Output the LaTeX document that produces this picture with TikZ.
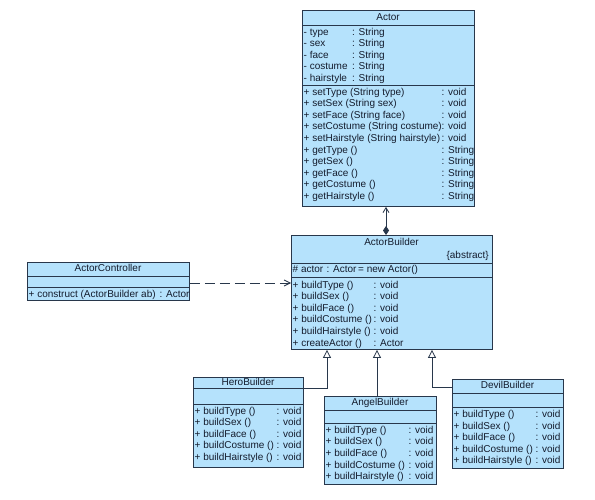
\documentclass[tikz,border=0pt]{standalone}
\usepackage{fontspec}
\setmainfont{Liberation Sans}
\usetikzlibrary{arrows.meta}
\definecolor{boxfill}{RGB}{181,226,252}
\definecolor{boxdraw}{RGB}{40,55,75}
\definecolor{txtcol}{RGB}{20,28,45}
\begin{document}
\begin{tikzpicture}[x=1pt,y=-1pt,
  umlbox/.style={draw=boxdraw, fill=boxfill, line width=0.9pt, inner sep=0pt, anchor=north west},
  txt/.style={inner sep=0pt, text height=7pt, text depth=2pt, anchor=west, font=\fontsize{10}{11}\selectfont, text=txtcol},
  ttl/.style={txt, anchor=center},
  sep/.style={draw=boxdraw, line width=0.9pt},
  conn/.style={draw=boxdraw, line width=0.8pt},
  gen/.style={conn, -{Triangle[open, fill=white, length=8pt, width=8pt]}},
]
\useasboundingbox (0,0) rectangle (595,500);
\fill[white] (0,0) rectangle (595,500);

% ---------- Actor ----------
\node[umlbox, minimum width=172pt, minimum height=196pt] (actor) at (302,10) {};
\draw[sep] (302,25.5) -- (474,25.5);
\draw[sep] (302,85) -- (474,85);
\node[ttl] (actorT) at (388,18) {Actor};
\node[txt] (aa1) at (303.5,33) {- type};
\node[txt] (aa2) at (303.5,44.4) {- sex};
\node[txt] (aa3) at (303.5,55.8) {- face};
\node[txt] (aa4) at (303.5,67.2) {- costume};
\node[txt] (aa5) at (303.5,78.6) {- hairstyle};
\node[txt] (ab1) at (352,33) {: String};
\node[txt] (ab2) at (352,44.4) {: String};
\node[txt] (ab3) at (352,55.8) {: String};
\node[txt] (ab4) at (352,67.2) {: String};
\node[txt] (ab5) at (352,78.6) {: String};
\node[txt] (am1) at (303.5,92.7) {+ setType (String type)};
\node[txt] (am2) at (303.5,104.3) {+ setSex (String sex)};
\node[txt] (am3) at (303.5,115.9) {+ setFace (String face)};
\node[txt] (am4) at (303.5,127.5) {+ setCostume (String costume)};
\node[txt] (am5) at (303.5,139.1) {+ setHairstyle (String hairstyle)};
\node[txt] (am6) at (303.5,150.7) {+ getType ()};
\node[txt] (am7) at (303.5,162.3) {+ getSex ()};
\node[txt] (am8) at (303.5,173.9) {+ getFace ()};
\node[txt] (am9) at (303.5,185.5) {+ getCostume ()};
\node[txt] (am10) at (303.5,197.1) {+ getHairstyle ()};
\node[txt] (ar1) at (441.5,92.7) {: void};
\node[txt] (ar2) at (441.5,104.3) {: void};
\node[txt] (ar3) at (441.5,115.9) {: void};
\node[txt] (ar4) at (441.5,127.5) {: void};
\node[txt] (ar5) at (441.5,139.1) {: void};
\node[txt] (ar6) at (441.5,150.7) {: String};
\node[txt] (ar7) at (441.5,162.3) {: String};
\node[txt] (ar8) at (441.5,173.9) {: String};
\node[txt] (ar9) at (441.5,185.5) {: String};
\node[txt] (ar10) at (441.5,197.1) {: String};

% ---------- ActorBuilder ----------
\node[umlbox, minimum width=201pt, minimum height=114pt] (builder) at (291,235) {};
\draw[sep] (291,263) -- (492,263);
\draw[sep] (291,277) -- (492,277);
\node[ttl] (builderT) at (391.5,243) {ActorBuilder};
\node[txt, anchor=east] (builderS) at (489,256) {\{abstract\}};
\node[txt] (ba1) at (292.5,270) {\# actor};
\node[txt] (ba2) at (326.5,270) {: Actor};
\node[txt] (ba3) at (358,270) {= new Actor()};
\node[txt] (bm1) at (292.5,285.5) {+ buildType ()};
\node[txt] (bm2) at (292.5,297.1) {+ buildSex ()};
\node[txt] (bm3) at (292.5,308.7) {+ buildFace ()};
\node[txt] (bm4) at (292.5,320.3) {+ buildCostume ()};
\node[txt] (bm5) at (292.5,331.9) {+ buildHairstyle ()};
\node[txt] (bm6) at (292.5,343.5) {+ createActor ()};
\node[txt] (br1) at (373.5,285.5) {: void};
\node[txt] (br2) at (373.5,297.1) {: void};
\node[txt] (br3) at (373.5,308.7) {: void};
\node[txt] (br4) at (373.5,320.3) {: void};
\node[txt] (br5) at (373.5,331.9) {: void};
\node[txt] (br6) at (373.5,343.5) {: Actor};

% ---------- ActorController ----------
\node[umlbox, minimum width=162pt, minimum height=38pt] (controller) at (27,262) {};
\draw[sep] (27,276) -- (189,276);
\draw[sep] (27,287.5) -- (189,287.5);
\node[ttl] (controllerT) at (108,269) {ActorController};
\node[txt] (cm1) at (28.5,295.5) {+ construct (ActorBuilder ab)};
\node[txt] (cr1) at (159.5,295.5) {: Actor};

% ---------- HeroBuilder ----------
\node[umlbox, minimum width=110pt, minimum height=90pt] (hero) at (193,377) {};
\draw[sep] (193,388) -- (303,388);
\draw[sep] (193,404) -- (303,404);
\node[ttl] (heroT) at (248,382.5) {HeroBuilder};
\node[txt] (hm1) at (194.5,411.7) {+ buildType ()};
\node[txt] (hm2) at (194.5,423.2) {+ buildSex ()};
\node[txt] (hm3) at (194.5,434.7) {+ buildFace ()};
\node[txt] (hm4) at (194.5,446.2) {+ buildCostume ()};
\node[txt] (hm5) at (194.5,457.7) {+ buildHairstyle ()};
\node[txt] (hr1) at (276.5,411.7) {: void};
\node[txt] (hr2) at (276.5,423.2) {: void};
\node[txt] (hr3) at (276.5,434.7) {: void};
\node[txt] (hr4) at (276.5,446.2) {: void};
\node[txt] (hr5) at (276.5,457.7) {: void};

% ---------- AngelBuilder ----------
\node[umlbox, minimum width=112pt, minimum height=88pt] (angel) at (324,396) {};
\draw[sep] (324,410.5) -- (436,410.5);
\draw[sep] (324,423.5) -- (436,423.5);
\node[ttl] (angelT) at (380,403) {AngelBuilder};
\node[txt] (gm1) at (325.5,430.7) {+ buildType ()};
\node[txt] (gm2) at (325.5,442.3) {+ buildSex ()};
\node[txt] (gm3) at (325.5,454.0) {+ buildFace ()};
\node[txt] (gm4) at (325.5,465.6) {+ buildCostume ()};
\node[txt] (gm5) at (325.5,477.3) {+ buildHairstyle ()};
\node[txt] (gr1) at (408.5,430.7) {: void};
\node[txt] (gr2) at (408.5,442.3) {: void};
\node[txt] (gr3) at (408.5,454.0) {: void};
\node[txt] (gr4) at (408.5,465.6) {: void};
\node[txt] (gr5) at (408.5,477.3) {: void};

% ---------- DevilBuilder ----------
\node[umlbox, minimum width=111pt, minimum height=89pt] (devil) at (452,379) {};
\draw[sep] (452,393) -- (563,393);
\draw[sep] (452,407) -- (563,407);
\node[ttl] (devilT) at (507.5,386) {DevilBuilder};
\node[txt] (dm1) at (453.5,415) {+ buildType ()};
\node[txt] (dm2) at (453.5,426.5) {+ buildSex ()};
\node[txt] (dm3) at (453.5,438) {+ buildFace ()};
\node[txt] (dm4) at (453.5,449.5) {+ buildCostume ()};
\node[txt] (dm5) at (453.5,461) {+ buildHairstyle ()};
\node[txt] (dr1) at (535.5,415) {: void};
\node[txt] (dr2) at (535.5,426.5) {: void};
\node[txt] (dr3) at (535.5,438) {: void};
\node[txt] (dr4) at (535.5,449.5) {: void};
\node[txt] (dr5) at (535.5,461) {: void};

% ---------- connectors ----------
\coordinate (cx1) at (386,0);
\draw[conn, {Diamond[length=9pt,width=6pt]}-{Straight Barb[length=5pt,width=6pt]}]
  (cx1 |- builder.north) -- (cx1 |- actor.south);

\coordinate (cy1) at (0,283);
\draw[conn, dash pattern=on 10pt off 5pt, -{Straight Barb[length=6pt,width=6pt]}]
  (controller.east |- cy1) -- (builder.west |- cy1);

\coordinate (gx1) at (327,0);
\coordinate (gy1) at (0,388);
\draw[gen] (hero.east |- gy1) -| (gx1 |- builder.south);

\coordinate (gx2) at (377,0);
\draw[gen] (gx2 |- angel.north) -- (gx2 |- builder.south);

\coordinate (gx3) at (432,0);
\coordinate (gy3) at (0,387);
\draw[gen] (devil.west |- gy3) -| (gx3 |- builder.south);
\end{tikzpicture}
\end{document}
